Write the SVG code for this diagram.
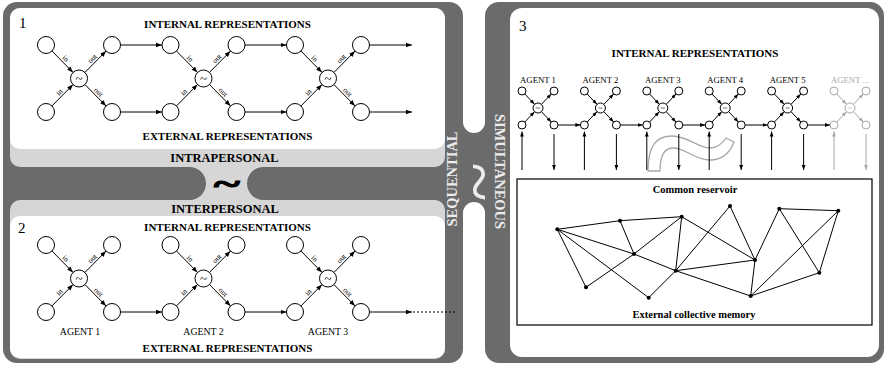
<svg xmlns="http://www.w3.org/2000/svg" width="885" height="367" viewBox="0 0 885 367">
<defs>
<marker id="ah" viewBox="0 0 10 10" refX="10" refY="5" markerWidth="6" markerHeight="6" markerUnits="userSpaceOnUse" orient="auto"><path d="M0,1.2 L10,5 L0,8.8 z" fill="#000"/></marker>
<marker id="ahs" viewBox="0 0 10 10" refX="10" refY="5" markerWidth="5" markerHeight="5" markerUnits="userSpaceOnUse" orient="auto"><path d="M0,1.2 L10,5 L0,8.8 z" fill="#000"/></marker>
<marker id="ahg" viewBox="0 0 10 10" refX="10" refY="5" markerWidth="5" markerHeight="5" markerUnits="userSpaceOnUse" orient="auto"><path d="M0,1.2 L10,5 L0,8.8 z" fill="#a8a8a8"/></marker>
</defs>
<style>
.dk{fill:#6b6b6b}
.lt{fill:#d6d6d6}
.wh{fill:#fff}
.c{fill:#fff;stroke:#000;stroke-width:1}
.cg{fill:#fff;stroke:#a8a8a8;stroke-width:1}
.ln{stroke:#000;stroke-width:1;fill:none;marker-end:url(#ah)}
.ls{stroke:#000;stroke-width:1;fill:none;marker-end:url(#ahs)}
.lg{stroke:#a8a8a8;stroke-width:1;fill:none;marker-end:url(#ahg)}
.e{stroke:#000;stroke-width:1;fill:none}
.t{font-family:"Liberation Serif","Times New Roman",serif;fill:#000}
.hd{font-size:11px;font-weight:bold;text-anchor:middle}
.band{font-size:12.5px;font-weight:bold;text-anchor:middle}
.num{font-size:15px}
.io{font-size:7.5px;text-anchor:middle}
.til{font-size:13px;text-anchor:middle}
.ag{font-size:9.8px;text-anchor:middle}
.ag3{font-size:8.7px;text-anchor:middle}
.side{font-family:"Liberation Serif","Times New Roman",serif;font-size:14.5px;font-weight:bold;fill:#ececec;text-anchor:middle}
.dot{fill:#000}
</style>

<g id="frame">
<rect class="dk" x="3" y="2" width="460" height="361" rx="14"/>
<rect class="dk" x="485" y="2" width="399" height="361" rx="14"/>
<rect class="dk" x="455" y="100" width="40" height="140"/>
<rect class="wh" x="463" y="-40" width="22" height="173" rx="11"/>
<rect class="wh" x="463" y="202" width="22" height="200" rx="11"/>
<text class="side" transform="translate(456.5,179) rotate(-90)">SEQUENTIAL</text>
<text class="side" transform="translate(495,171.5) rotate(90)">SIMULTANEOUS</text>
<text class="t" transform="translate(476.5,182) rotate(90)" style="font-size:72px;fill:#ececec;text-anchor:middle" dy="0.3em">~</text>
</g>

<g id="panel1-bg">
<rect class="lt" x="10" y="8" width="435" height="159" rx="10"/>
<rect class="wh" x="10" y="8" width="435" height="141" rx="10"/>
</g>
<g id="panel2-bg">
<rect class="lt" x="10" y="200" width="435" height="159" rx="10"/>
<rect class="wh" x="10" y="216" width="435" height="142" rx="10"/>
</g>
<g id="hourglass">
<rect class="lt" x="190" y="160" width="75" height="46"/>
<rect class="dk" x="150" y="167" width="56" height="33" rx="16.5"/>
<rect class="dk" x="247" y="167" width="56" height="33" rx="16.5"/>
<text class="t" transform="translate(227,193.5) scale(1.55,1)" style="font-size:32px;font-weight:bold;text-anchor:middle;stroke:#000;stroke-width:1.2">~</text>
<text class="t band" x="224.5" y="162">INTRAPERSONAL</text>
<text class="t band" x="225" y="212.5">INTERPERSONAL</text>
</g>
<g id="panel3-bg">
<rect class="wh" x="510" y="8" width="369" height="349" rx="12"/>
</g>

<!-- Panel 1 -->
<g id="panel1-labels">
<text class="t num" x="19" y="28">1</text>
<text class="t hd" x="227.5" y="27.5">INTERNAL REPRESENTATIONS</text>
<text class="t hd" x="227.5" y="140">EXTERNAL REPRESENTATIONS</text>
</g>
<g id="p1-u1">
<circle class="c" cx="46" cy="45" r="8.5"/><circle class="c" cx="112" cy="45" r="8.5"/>
<circle class="c" cx="46" cy="112" r="8.5"/><circle class="c" cx="112" cy="112" r="8.5"/>
<circle class="c" cx="79" cy="78.5" r="8.5"/><text class="t til" x="79" y="82.5">~</text>
</g>
<g id="p1-u2">
<circle class="c" cx="170.5" cy="45" r="8.5"/><circle class="c" cx="236.5" cy="45" r="8.5"/>
<circle class="c" cx="170.5" cy="112" r="8.5"/><circle class="c" cx="236.5" cy="112" r="8.5"/>
<circle class="c" cx="203.5" cy="78.5" r="8.5"/><text class="t til" x="203.5" y="82.5">~</text>
</g>
<g id="p1-u3">
<circle class="c" cx="295" cy="45" r="8.5"/><circle class="c" cx="361" cy="45" r="8.5"/>
<circle class="c" cx="295" cy="112" r="8.5"/><circle class="c" cx="361" cy="112" r="8.5"/>
<circle class="c" cx="328" cy="78.5" r="8.5"/><text class="t til" x="328" y="82.5">~</text>
</g>

<!-- Panel 2 -->
<g id="panel2-labels">
<text class="t num" x="18" y="233">2</text>
<text class="t hd" x="227.5" y="230.5">INTERNAL REPRESENTATIONS</text>
<text class="t hd" x="227.5" y="352">EXTERNAL REPRESENTATIONS</text>
<text class="t ag" x="80" y="335">AGENT 1</text>
<text class="t ag" x="203.5" y="335">AGENT 2</text>
<text class="t ag" x="328" y="335">AGENT 3</text>
</g>
<g id="p2-u1">
<circle class="c" cx="46" cy="245" r="8.5"/><circle class="c" cx="112" cy="245" r="8.5"/>
<circle class="c" cx="46" cy="312" r="8.5"/><circle class="c" cx="112" cy="312" r="8.5"/>
<circle class="c" cx="79" cy="278.5" r="8.5"/><text class="t til" x="79" y="282.5">~</text>
</g>
<g id="p2-u2">
<circle class="c" cx="170.5" cy="245" r="8.5"/><circle class="c" cx="236.5" cy="245" r="8.5"/>
<circle class="c" cx="170.5" cy="312" r="8.5"/><circle class="c" cx="236.5" cy="312" r="8.5"/>
<circle class="c" cx="203.5" cy="278.5" r="8.5"/><text class="t til" x="203.5" y="282.5">~</text>
</g>
<g id="p2-u3">
<circle class="c" cx="295" cy="245" r="8.5"/><circle class="c" cx="361" cy="245" r="8.5"/>
<circle class="c" cx="295" cy="312" r="8.5"/><circle class="c" cx="361" cy="312" r="8.5"/>
<circle class="c" cx="328" cy="278.5" r="8.5"/><text class="t til" x="328" y="282.5">~</text>
</g>

<!-- Panel 3 -->
<g id="panel3-labels">
<text class="t num" x="519" y="31">3</text>
<text class="t hd" x="695" y="57">INTERNAL REPRESENTATIONS</text>
<text class="t ag3" x="538" y="83">AGENT 1</text>
<text class="t ag3" x="600.4" y="83">AGENT 2</text>
<text class="t ag3" x="662.8" y="83">AGENT 3</text>
<text class="t ag3" x="725.2" y="83">AGENT 4</text>
<text class="t ag3" x="787.6" y="83">AGENT 5</text>
<text class="t ag3" x="850" y="83" style="fill:#a8a8a8">AGENT ...</text>
</g>
<g id="big-tilde">
<path d="M648,171 C648,146 656,136 672,136 C688,136 698,148 710,148 C717,148 722,144 726,138 L734,142 C729,155 720,160 710,160 C694,160 686,148 673,148 C664,148 660,156 660,171 Z" fill="#fff" stroke="#a8a8a8" stroke-width="1.3" stroke-linejoin="round"/>
</g>
<g id="p3-u1">
<circle class="c" cx="522" cy="91" r="4"/><circle class="c" cx="554" cy="91" r="4"/>
<circle class="c" cx="522" cy="125" r="4"/><circle class="c" cx="554" cy="125" r="4"/>
<circle class="c" cx="538" cy="108" r="5"/><text class="t" x="538" y="110.5" style="font-size:8px;text-anchor:middle">~</text>
</g>
<g id="p3-u2">
<circle class="c" cx="584.4" cy="91" r="4"/><circle class="c" cx="616.4" cy="91" r="4"/>
<circle class="c" cx="584.4" cy="125" r="4"/><circle class="c" cx="616.4" cy="125" r="4"/>
<circle class="c" cx="600.4" cy="108" r="5"/><text class="t" x="600.4" y="110.5" style="font-size:8px;text-anchor:middle">~</text>
</g>
<g id="p3-u3">
<circle class="c" cx="646.8" cy="91" r="4"/><circle class="c" cx="678.8" cy="91" r="4"/>
<circle class="c" cx="646.8" cy="125" r="4"/><circle class="c" cx="678.8" cy="125" r="4"/>
<circle class="c" cx="662.8" cy="108" r="5"/><text class="t" x="662.8" y="110.5" style="font-size:8px;text-anchor:middle">~</text>
</g>
<g id="p3-u4">
<circle class="c" cx="709.2" cy="91" r="4"/><circle class="c" cx="741.2" cy="91" r="4"/>
<circle class="c" cx="709.2" cy="125" r="4"/><circle class="c" cx="741.2" cy="125" r="4"/>
<circle class="c" cx="725.2" cy="108" r="5"/><text class="t" x="725.2" y="110.5" style="font-size:8px;text-anchor:middle">~</text>
</g>
<g id="p3-u5">
<circle class="c" cx="771.6" cy="91" r="4"/><circle class="c" cx="803.6" cy="91" r="4"/>
<circle class="c" cx="771.6" cy="125" r="4"/><circle class="c" cx="803.6" cy="125" r="4"/>
<circle class="c" cx="787.6" cy="108" r="5"/><text class="t" x="787.6" y="110.5" style="font-size:8px;text-anchor:middle">~</text>
</g>
<g id="p3-u6">
<circle class="cg" cx="834" cy="91" r="4"/><circle class="cg" cx="866" cy="91" r="4"/>
<circle class="cg" cx="834" cy="125" r="4"/><circle class="cg" cx="866" cy="125" r="4"/>
<circle class="cg" cx="850" cy="108" r="5"/><text class="t" x="850" y="110.5" style="font-size:8px;text-anchor:middle;fill:#a8a8a8">~</text>
</g>
<g id="reservoir">
<rect x="517" y="179" width="355" height="146" fill="#fff" stroke="#000" stroke-width="1.2"/>
<text class="t" x="695" y="193" style="font-size:10.5px;font-weight:bold;text-anchor:middle">Common reservoir</text>
<text class="t" x="694" y="318" style="font-size:10.5px;font-weight:bold;text-anchor:middle">External collective memory</text>
</g>
<g id="network">
<path class="e" d="M557.3,229.3 L620,220.7 L681.7,216.7 M620,220.7 L634,254 M681.7,216.7 L634,254 M557.3,229.3 L634,254 L675.7,270.7 L750.7,296 M557.3,229.3 L586,287.3 L634,254 M557.3,229.3 L648.7,297.7 L675.7,270.7 L681.7,216.7 L755,260 M675.7,270.7 L730,206 L755,260 M675.7,270.7 L755,260 L750.7,296 M779.3,208.7 L838.3,210.7 L819.3,272.7 L750.7,296 M779.3,208.7 L755,260 M779.3,208.7 L819.3,272.7 M838.3,210.7 L750.7,296"/>
<circle class="dot" cx="557.3" cy="229.3" r="2"/><circle class="dot" cx="620" cy="220.7" r="2"/>
<circle class="dot" cx="681.7" cy="216.7" r="2"/><circle class="dot" cx="634" cy="254" r="2"/>
<circle class="dot" cx="675.7" cy="270.7" r="2"/><circle class="dot" cx="586" cy="287.3" r="2"/>
<circle class="dot" cx="648.7" cy="297.7" r="2"/><circle class="dot" cx="730" cy="206" r="2"/>
<circle class="dot" cx="779.3" cy="208.7" r="2"/><circle class="dot" cx="838.3" cy="210.7" r="2"/>
<circle class="dot" cx="755" cy="260" r="2"/><circle class="dot" cx="819.3" cy="272.7" r="2"/>
<circle class="dot" cx="750.7" cy="296" r="2"/>
</g>

<g id="connectors">
<!-- panel 1 -->
<line class="ln" x1="51.97" y1="51.06" x2="73.03" y2="72.44"/><line class="ln" x1="51.97" y1="105.94" x2="73.03" y2="84.56"/>
<line class="ln" x1="84.97" y1="72.44" x2="106.03" y2="51.06"/><line class="ln" x1="84.97" y1="84.56" x2="106.03" y2="105.94"/>
<line class="ln" x1="176.47" y1="51.06" x2="197.53" y2="72.44"/><line class="ln" x1="176.47" y1="105.94" x2="197.53" y2="84.56"/>
<line class="ln" x1="209.47" y1="72.44" x2="230.53" y2="51.06"/><line class="ln" x1="209.47" y1="84.56" x2="230.53" y2="105.94"/>
<line class="ln" x1="300.97" y1="51.06" x2="322.03" y2="72.44"/><line class="ln" x1="300.97" y1="105.94" x2="322.03" y2="84.56"/>
<line class="ln" x1="333.97" y1="72.44" x2="355.03" y2="51.06"/><line class="ln" x1="333.97" y1="84.56" x2="355.03" y2="105.94"/>
<line class="ln" x1="120.5" y1="45" x2="162" y2="45"/><line class="ln" x1="245" y1="45" x2="286.5" y2="45"/><line class="ln" x1="369.5" y1="45" x2="412" y2="45"/>
<line class="ln" x1="120.5" y1="112" x2="162" y2="112"/><line class="ln" x1="245" y1="112" x2="286.5" y2="112"/><line class="ln" x1="369.5" y1="112" x2="412" y2="112"/>
<!-- panel 2 -->
<line class="ln" x1="51.97" y1="251.06" x2="73.03" y2="272.44"/><line class="ln" x1="51.97" y1="305.94" x2="73.03" y2="284.56"/>
<line class="ln" x1="84.97" y1="272.44" x2="106.03" y2="251.06"/><line class="ln" x1="84.97" y1="284.56" x2="106.03" y2="305.94"/>
<line class="ln" x1="176.47" y1="251.06" x2="197.53" y2="272.44"/><line class="ln" x1="176.47" y1="305.94" x2="197.53" y2="284.56"/>
<line class="ln" x1="209.47" y1="272.44" x2="230.53" y2="251.06"/><line class="ln" x1="209.47" y1="284.56" x2="230.53" y2="305.94"/>
<line class="ln" x1="300.97" y1="251.06" x2="322.03" y2="272.44"/><line class="ln" x1="300.97" y1="305.94" x2="322.03" y2="284.56"/>
<line class="ln" x1="333.97" y1="272.44" x2="355.03" y2="251.06"/><line class="ln" x1="333.97" y1="284.56" x2="355.03" y2="305.94"/>
<line class="ln" x1="120.5" y1="312" x2="162" y2="312"/><line class="ln" x1="245" y1="312" x2="286.5" y2="312"/><line class="ln" x1="369.5" y1="312" x2="412" y2="312"/>
<line class="e" x1="413" y1="312" x2="456" y2="312" stroke-dasharray="2,2"/>
<!-- in/out labels -->
<g class="t io">
<text transform="translate(63.9,60.35) rotate(45)">in</text><text transform="translate(61.1,93.85) rotate(-45)">in</text>
<text transform="translate(94.1,60.35) rotate(-45)">out</text><text transform="translate(96.9,93.85) rotate(45)">out</text>
<text transform="translate(188.4,60.35) rotate(45)">in</text><text transform="translate(185.6,93.85) rotate(-45)">in</text>
<text transform="translate(218.6,60.35) rotate(-45)">out</text><text transform="translate(221.4,93.85) rotate(45)">out</text>
<text transform="translate(312.9,60.35) rotate(45)">in</text><text transform="translate(310.1,93.85) rotate(-45)">in</text>
<text transform="translate(343.1,60.35) rotate(-45)">out</text><text transform="translate(345.9,93.85) rotate(45)">out</text>
<text transform="translate(63.9,260.35) rotate(45)">in</text><text transform="translate(61.1,293.85) rotate(-45)">in</text>
<text transform="translate(94.1,260.35) rotate(-45)">out</text><text transform="translate(96.9,293.85) rotate(45)">out</text>
<text transform="translate(188.4,260.35) rotate(45)">in</text><text transform="translate(185.6,293.85) rotate(-45)">in</text>
<text transform="translate(218.6,260.35) rotate(-45)">out</text><text transform="translate(221.4,293.85) rotate(45)">out</text>
<text transform="translate(312.9,260.35) rotate(45)">in</text><text transform="translate(310.1,293.85) rotate(-45)">in</text>
<text transform="translate(343.1,260.35) rotate(-45)">out</text><text transform="translate(345.9,293.85) rotate(45)">out</text>
</g>
<!-- panel 3 -->
<line class="ls" x1="524.74" y1="93.91" x2="534.57" y2="104.36"/><line class="ls" x1="524.74" y1="122.09" x2="534.57" y2="111.64"/>
<line class="ls" x1="541.43" y1="104.36" x2="551.26" y2="93.91"/><line class="ls" x1="541.43" y1="111.64" x2="551.26" y2="122.09"/>
<line class="ls" x1="587.14" y1="93.91" x2="596.97" y2="104.36"/><line class="ls" x1="587.14" y1="122.09" x2="596.97" y2="111.64"/>
<line class="ls" x1="603.83" y1="104.36" x2="613.66" y2="93.91"/><line class="ls" x1="603.83" y1="111.64" x2="613.66" y2="122.09"/>
<line class="ls" x1="649.54" y1="93.91" x2="659.37" y2="104.36"/><line class="ls" x1="649.54" y1="122.09" x2="659.37" y2="111.64"/>
<line class="ls" x1="666.23" y1="104.36" x2="676.06" y2="93.91"/><line class="ls" x1="666.23" y1="111.64" x2="676.06" y2="122.09"/>
<line class="ls" x1="711.94" y1="93.91" x2="721.77" y2="104.36"/><line class="ls" x1="711.94" y1="122.09" x2="721.77" y2="111.64"/>
<line class="ls" x1="728.63" y1="104.36" x2="738.46" y2="93.91"/><line class="ls" x1="728.63" y1="111.64" x2="738.46" y2="122.09"/>
<line class="ls" x1="774.34" y1="93.91" x2="784.17" y2="104.36"/><line class="ls" x1="774.34" y1="122.09" x2="784.17" y2="111.64"/>
<line class="ls" x1="791.03" y1="104.36" x2="800.86" y2="93.91"/><line class="ls" x1="791.03" y1="111.64" x2="800.86" y2="122.09"/>
<line class="lg" x1="836.74" y1="93.91" x2="846.57" y2="104.36"/><line class="lg" x1="836.74" y1="122.09" x2="846.57" y2="111.64"/>
<line class="lg" x1="853.43" y1="104.36" x2="863.26" y2="93.91"/><line class="lg" x1="853.43" y1="111.64" x2="863.26" y2="122.09"/>
<line class="ls" x1="558" y1="125" x2="580.4" y2="125"/><line class="ls" x1="620.4" y1="125" x2="642.8" y2="125"/>
<line class="ls" x1="682.8" y1="125" x2="705.2" y2="125"/><line class="ls" x1="745.2" y1="125" x2="767.6" y2="125"/>
<line class="ls" x1="807.6" y1="125" x2="830" y2="125"/>
<line class="ls" x1="522" y1="170" x2="522" y2="131.5"/><line class="ls" x1="554" y1="134" x2="554" y2="170"/>
<line class="ls" x1="584.4" y1="170" x2="584.4" y2="131.5"/><line class="ls" x1="616.4" y1="134" x2="616.4" y2="170"/>
<line class="ls" x1="646.8" y1="170" x2="646.8" y2="131.5"/><line class="ls" x1="678.8" y1="134" x2="678.8" y2="170"/>
<line class="ls" x1="709.2" y1="170" x2="709.2" y2="131.5"/><line class="ls" x1="741.2" y1="134" x2="741.2" y2="170"/>
<line class="ls" x1="771.6" y1="170" x2="771.6" y2="131.5"/><line class="ls" x1="803.6" y1="134" x2="803.6" y2="170"/>
<line class="lg" x1="834" y1="170" x2="834" y2="131.5"/><line class="lg" x1="866" y1="134" x2="866" y2="170"/>
</g>
</svg>
